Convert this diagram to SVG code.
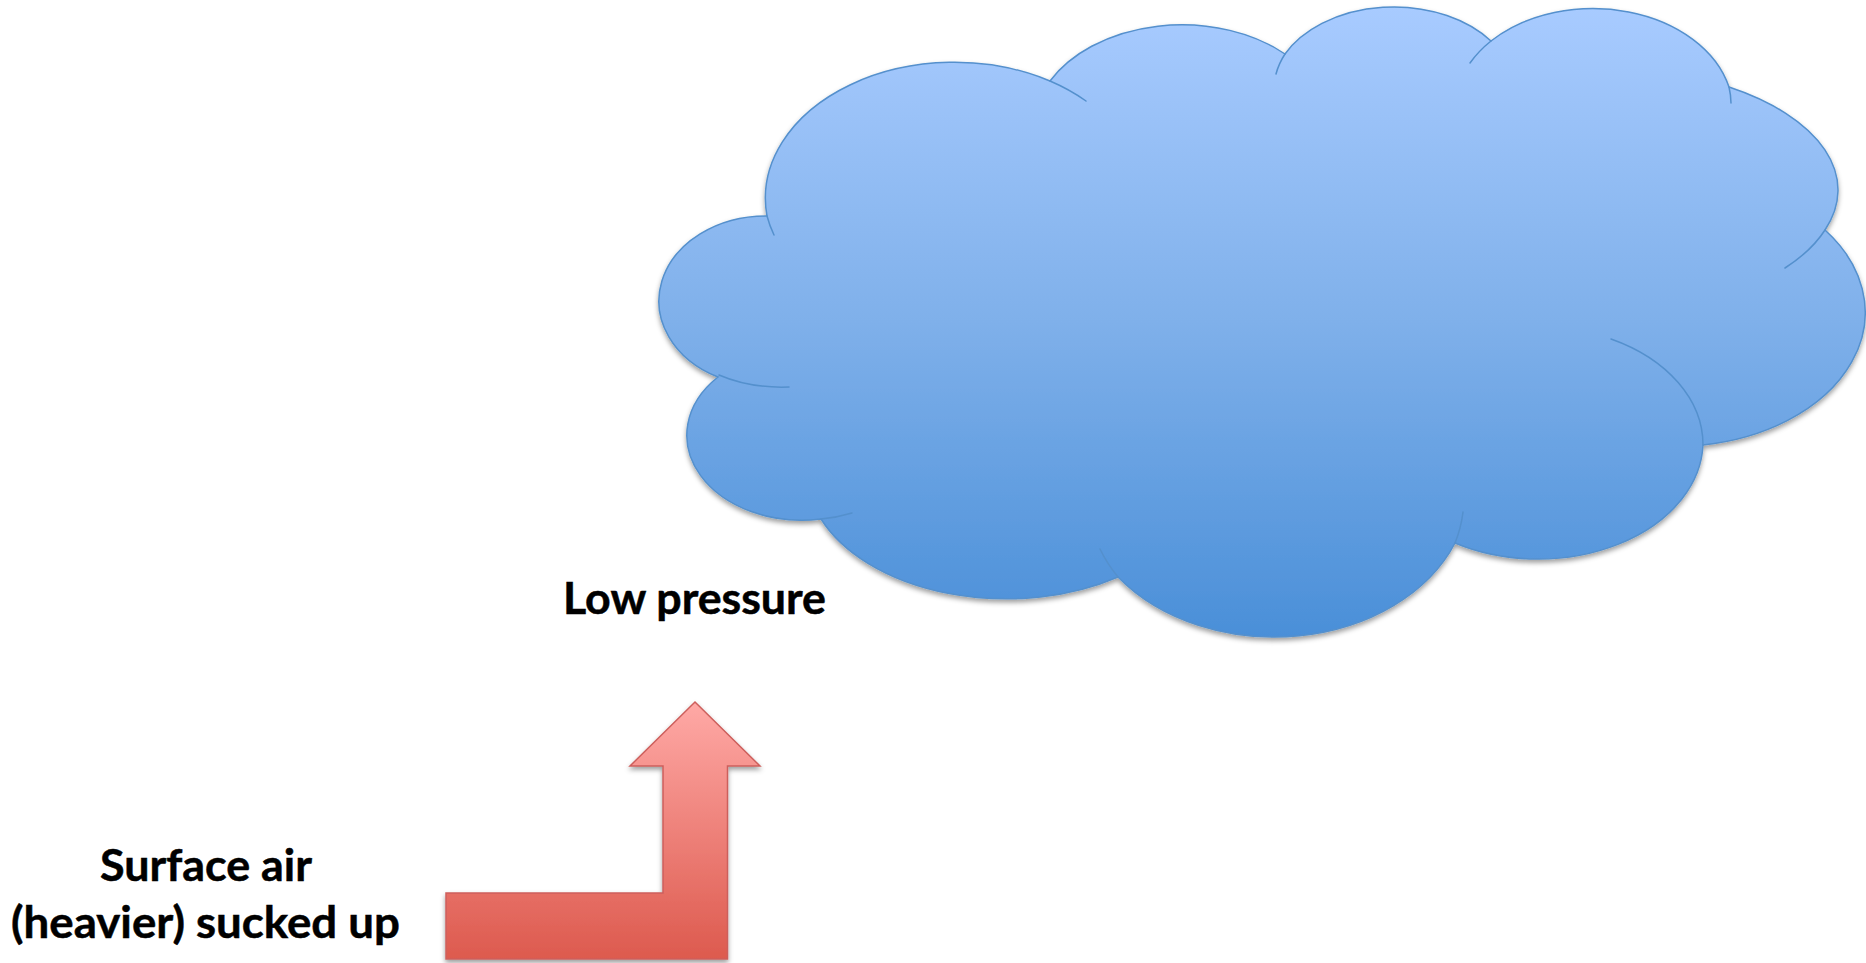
<svg xmlns="http://www.w3.org/2000/svg" width="1866" height="963" viewBox="0 0 1866 963">
<style>
.lbl{font-family:"Lato","Carlito","Liberation Sans",sans-serif;font-weight:700;font-size:44px;fill:#000;stroke:#000;stroke-width:0.5;text-anchor:middle}
.seam{fill:none;stroke:#5490cd;stroke-width:1.5;stroke-linecap:round}
</style>
<defs>
<linearGradient id="cloudFill" gradientUnits="userSpaceOnUse" x1="0" y1="7" x2="0" y2="637">
<stop offset="0" stop-color="#a8cbff"/><stop offset="0.5" stop-color="#7fb0ea"/><stop offset="1" stop-color="#4a8fd8"/>
</linearGradient>
<linearGradient id="arrowFill" gradientUnits="userSpaceOnUse" x1="0" y1="702" x2="0" y2="959">
<stop offset="0" stop-color="#ffa9a6"/><stop offset="1" stop-color="#dd5a4e"/>
</linearGradient>
<filter id="shadow" x="-5%" y="-5%" width="110%" height="115%">
<feDropShadow dx="0" dy="3" stdDeviation="2.5" flood-color="#000" flood-opacity="0.38"/>
</filter>
</defs>
<rect width="1866" height="963" fill="#fff"/>
<g id="cloud">
<path filter="url(#shadow)" fill="url(#cloudFill)" stroke="#5490cd" stroke-width="1.5" d="M767 216 A189 136 0 0 1 1050 81 A149 105 0 0 1 1285 54 A122 86 0 0 1 1491 41 A140 103 0 0 1 1729 87 A235 122 0 0 1 1825 230 A190 134 0 0 1 1703 445 A165 118 0 0 1 1455 543 A195 150 0 0 1 1118 577 A200 128 0 0 1 821 519 A115 85 0 0 1 718 377 A107 85 0 0 1 767 216 Z"/>
<path class="seam" d="M767 216 A186 134 0 0 0 774 235"/>
<path class="seam" d="M1050 81 A186 134 0 0 1 1086 101"/>
<path class="seam" d="M1285 54 A121 85 0 0 0 1276 74"/>
<path class="seam" d="M1491 41 A138 102 0 0 0 1470 63"/>
<path class="seam" d="M1729 87 A138 102 0 0 1 1731 103"/>
<path class="seam" d="M1825 230 A235 122 0 0 1 1785 268"/>
<path class="seam" d="M1611 339 A165 118 0 0 1 1703 445"/>
<path class="seam" d="M1463 512 A195 150 0 0 1 1455 543"/>
<path class="seam" d="M1118 577 A195 150 0 0 1 1100 549"/>
<path class="seam" d="M852 513 A117 86 0 0 1 821 519"/>
<path class="seam" d="M789 387 C763 388 740 384 719 375"/>
</g>
<g id="arrow">
<path filter="url(#shadow)" fill="url(#arrowFill)" stroke="#cd5f5c" stroke-width="1.5" d="M695 702 L760 766 H727.5 V959 H446 V893 H663 V766 H630 Z"/>
</g>
<g id="label-low-pressure"><text class="lbl" x="694.5" y="614" textLength="263" lengthAdjust="spacingAndGlyphs">Low pressure</text></g>
<g id="label-surface-air">
<text class="lbl" x="206" y="881" textLength="212" lengthAdjust="spacingAndGlyphs">Surface air</text>
<text class="lbl" x="205.500" y="938" textLength="389" lengthAdjust="spacingAndGlyphs">(heavier) sucked up</text>
</g>
</svg>
